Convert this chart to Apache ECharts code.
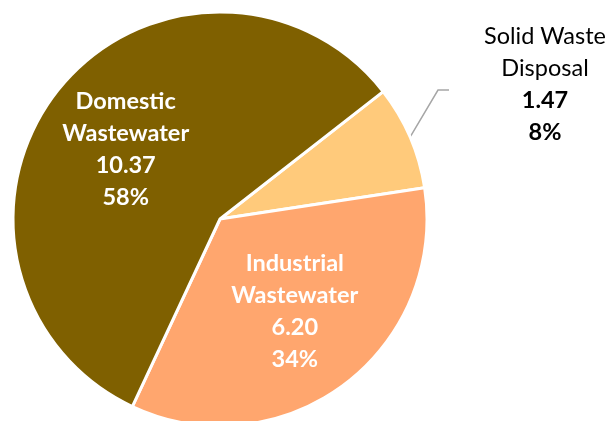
<!DOCTYPE html>
<html>
<head>
<meta charset="utf-8">
<script src="https://cdn.jsdelivr.net/npm/echarts@6/dist/echarts.min.js"></script>
<style>
  html, body { margin: 0; padding: 0; background: #ffffff; }
  #chart { width: 611px; height: 421px; }
</style>
</head>
<body>
<div id="chart"></div>
<script>
// Emission sources, listed clockwise from the top-right
const categories = ['Solid Waste\nDisposal', 'Industrial\nWastewater', 'Domestic\nWastewater'];
const values = [1.47, 6.20, 10.37];
const sliceColors = ['#FFCA7B', '#FFA66E', '#7F6000'];

const chart = echarts.init(document.getElementById('chart'), null, { renderer: 'canvas' });

const data = categories.map((name, i) => ({
  name: name,
  value: values[i],
  itemStyle: { color: sliceColors[i] }
}));

// name lines, value and share (largest-remainder rounding from ECharts)
function labelText(p) {
  const lines = p.name.split('\n');
  return lines.map(l => '{n|' + l + '}').join('\n') +
    '\n{b|' + p.value.toFixed(2) + '}\n{b|' + Math.round(p.percent) + '%}';
}

const FONT = 'Lato';
const SIZE = 23.5;
const LH = 32;

// Inside labels (white, bold)
const innerRich = {
  n: { fontFamily: FONT, fontWeight: 'bold', fontSize: SIZE, color: '#ffffff', lineHeight: LH },
  b: { fontFamily: FONT, fontWeight: 'bold', fontSize: SIZE, color: '#ffffff', lineHeight: LH }
};
// Outside label (black, name regular, numbers bold)
const outerRich = {
  n: { fontFamily: FONT, fontWeight: 'normal', fontSize: SIZE, color: '#000000', lineHeight: LH },
  b: { fontFamily: FONT, fontWeight: 'bold', fontSize: SIZE, color: '#000000', lineHeight: LH }
};

data[0].label = { position: 'outside', formatter: labelText, rich: outerRich, align: 'center' };
data[0].labelLine = { show: true, length: 40, length2: 12, lineStyle: { color: '#A6A6A6', width: 1.5 } };
data[1].label = { position: 'inside', formatter: labelText, rich: innerRich, align: 'center' };
data[2].label = { position: 'inside', formatter: labelText, rich: innerRich, align: 'center' };

chart.setOption({
  animation: false,
  series: [{
    type: 'pie',
    center: [220, 219],
    radius: [0, 207],
    startAngle: 38,
    clockwise: true,
    percentPrecision: 0,
    data: data,
    itemStyle: { borderColor: '#ffffff', borderWidth: 3 },
    labelLayout: function (params) {
      if (params.dataIndex === 0) {
        const lx = 545, ly = 84;
        // elbow leader: slice edge -> up-right -> short horizontal toward the text
        const start = params.labelLinePoints ? params.labelLinePoints[0] : [410, 134];
        const end = [lx - 96, ly + 6];
        const elbow = [end[0] - 11, end[1]];
        return {
          x: lx, y: ly, align: 'center', verticalAlign: 'middle',
          labelLinePoints: [start, elbow, end]
        };
      }
      if (params.dataIndex === 1) {
        return { dx: 11, dy: 7 };
      }
      return { dx: -11, dy: -3 };
    }
  }]
});
</script>
</body>
</html>
